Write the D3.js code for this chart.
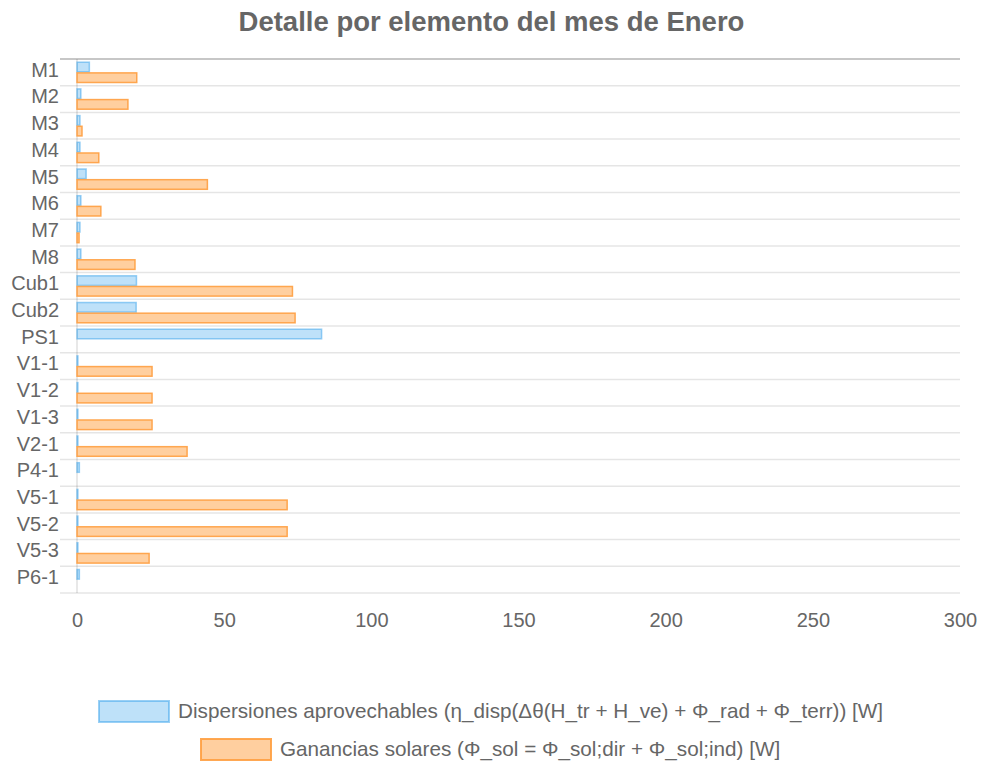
<!DOCTYPE html>
<html>
<head>
<meta charset="utf-8">
<script src="https://cdn.jsdelivr.net/npm/d3@7"></script>
<style>
  body { margin: 0; background: #fff; }
  text { font-family: "Liberation Sans", Arial, sans-serif; fill: #666; }
</style>
</head>
<body>
<script>
const elementos = ['M1', 'M2', 'M3', 'M4', 'M5', 'M6', 'M7', 'M8', 'Cub1', 'Cub2', 'PS1',
  'V1-1', 'V1-2', 'V1-3', 'V2-1', 'P4-1', 'V5-1', 'V5-2', 'V5-3', 'P6-1']

const dispersiones = [4.2, 1.3, 1.0, 1.0, 3.1, 1.3, 1.0, 1.3, 20.2, 20.1, 83.1,
  0.3, 0.3, 0.3, 0.3, 0.8, 0.3, 0.3, 0.3, 0.8]

const ganancias = [20.3, 17.3, 1.7, 7.4, 44.3, 8.1, 0.7, 19.7, 73.2, 74.1, 0,
  25.5, 25.5, 25.5, 37.4, 0, 71.4, 71.4, 24.5, 0]

const ticksX = [0, 50, 100, 150, 200, 250, 300]

const series = [
  {nombre: 'Dispersiones aprovechables (η_disp(Δθ(H_tr + H_ve) + Φ_rad + Φ_terr)) [W]',
   valores: dispersiones, relleno: 'rgba(54,162,235,0.32)', borde: 'rgba(54,162,235,0.5)'},
  {nombre: 'Ganancias solares (Φ_sol = Φ_sol;dir + Φ_sol;ind) [W]',
   valores: ganancias, relleno: 'rgba(255,159,64,0.5)', borde: 'rgba(255,159,64,0.9)'}
]

const margen = {topo: 59, derecha: 23, base: 169, izquierda: 77}
const anchoTotal = 983
const altoTotal = 762
const ancho = anchoTotal - margen.izquierda - margen.derecha
const alto = altoTotal - margen.topo - margen.base

const svg = d3.select('body').append('svg')
  .attr('width', anchoTotal)
  .attr('height', altoTotal)

svg.append('text')
  .attr('x', anchoTotal / 2)
  .attr('y', 31)
  .attr('text-anchor', 'middle')
  .style('font-size', '27.5px')
  .style('font-weight', 'bold')
  .text('Detalle por elemento del mes de Enero')

const grupo = svg.append('g')
  .attr('transform', 'translate(' + margen.izquierda + ',' + margen.topo + ')')

const escalaX = d3.scaleLinear().domain([0, 300]).range([0, ancho])
const escalaY = d3.scaleBand().domain(elementos).range([0, alto])
const bw = escalaY.bandwidth()
const escalaSerie = d3.scaleBand().domain([0, 1]).range([bw * 0.1, bw * 0.9])

// lineas horizontales entre categorias
grupo.selectAll('line.rejilla')
  .data(d3.range(elementos.length + 1))
  .enter().append('line')
    .attr('class', 'rejilla')
    .attr('x1', -17)
    .attr('x2', ancho)
    .attr('y1', d => d * bw)
    .attr('y2', d => d * bw)
    .attr('stroke', d => d === 0 ? 'rgba(0,0,0,0.22)' : 'rgba(0,0,0,0.1)')
    .attr('stroke-width', d => d === 0 ? 2 : 1.5)

grupo.append('line')
  .attr('x1', escalaX(0)).attr('x2', escalaX(0))
  .attr('y1', 0).attr('y2', alto)
  .attr('stroke', 'rgba(0,0,0,0.12)')
  .attr('stroke-width', 1.5)

series.forEach(function (s, i) {
  grupo.selectAll('rect.s' + i)
    .data(s.valores)
    .enter().append('rect')
      .attr('class', 's' + i)
      .attr('x', escalaX(0))
      .attr('y', (d, j) => escalaY(elementos[j]) + escalaSerie(i) + escalaSerie.bandwidth() * 0.05)
      .attr('width', d => escalaX(d) - escalaX(0))
      .attr('height', escalaSerie.bandwidth() * 0.9)
      .attr('fill', s.relleno)
      .attr('stroke', d => d > 0 ? s.borde : 'none')
      .attr('stroke-width', 1.5)
})

const ejeY = d3.axisLeft(escalaY).tickSize(0).tickPadding(18)
const gEjeY = grupo.append('g').call(ejeY)
gEjeY.select('.domain').remove()
gEjeY.selectAll('text')
  .attr('dy', '0.22em')
  .style('font-size', '20px').style('fill', '#666')

const ejeX = d3.axisBottom(escalaX).tickValues(ticksX).tickSize(0).tickPadding(20)
const gEjeX = grupo.append('g')
  .attr('transform', 'translate(0,' + alto + ')')
  .call(ejeX)
gEjeX.select('.domain').remove()
gEjeX.selectAll('text').style('font-size', '20px').style('fill', '#666')

// leyenda
const leyenda = [
  {x: 98, y: 700},
  {x: 200, y: 738}
]
series.forEach(function (s, i) {
  const g = svg.append('g').attr('transform', 'translate(' + leyenda[i].x + ',' + leyenda[i].y + ')')
  g.append('rect')
    .attr('x', 1).attr('y', 1)
    .attr('width', 70).attr('height', 21)
    .attr('fill', s.relleno)
    .attr('stroke', s.borde)
    .attr('stroke-width', 2)
  g.append('text')
    .attr('x', 80)
    .attr('y', 11)
    .attr('dy', '0.35em')
    .style('font-size', '20.7px')
    .text(s.nombre)
})
</script>
</body>
</html>
